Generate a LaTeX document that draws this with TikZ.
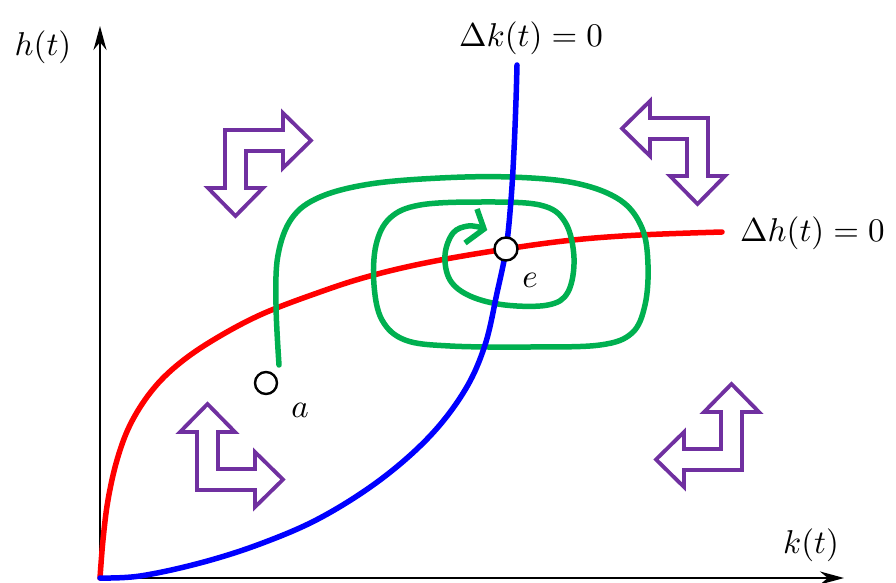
\documentclass[tikz,border=0pt]{standalone}
\usepackage{graphicx}
\usetikzlibrary{arrows.meta}
\definecolor{pgreen}{RGB}{0,176,80}
\definecolor{ppurple}{RGB}{112,48,160}
\newcommand{\biglab}[1]{\scalebox{3.3}{$#1$}}
\tikzset{
  curve/.style={line width=5.5pt, line cap=round, line join=round},
  axis/.style={line width=2pt, -{Stealth[length=24pt,width=13pt]}},
  lab/.style={inner sep=0pt},
  dot/.style={circle, draw=black, fill=white, line width=2.4pt, minimum size=23pt, inner sep=0pt},
  larrow/.pic={\draw[ppurple, line width=3.8pt, line join=miter, fill=white]
    (0,0) -- (58,0) -- (58,-17) -- (86,10.5) -- (58,38) -- (58,21) -- (21,21)
    -- (21,58) -- (38,58) -- (10.5,86) -- (-17,58) -- (0,58) -- cycle;}
}
\begin{document}
\begin{tikzpicture}[x=1pt,y=-1pt]
\useasboundingbox (0,0) rectangle (896,583);
\fill[white] (0,0) rectangle (896,583);
% axes
\coordinate (O) at (100,578);
\coordinate (ytop) at (100,26);
\coordinate (xend) at (844,578);
\draw[axis] (O) -- (ytop);
\draw[axis] (O) -- (xend);
% purple arrows
\pic at (225,130) {larrow};
\pic[xscale=-1] at (708,118) {larrow};
\pic[yscale=-1] at (197,490) {larrow};
\pic[xscale=-1,yscale=-1] at (742,470) {larrow};
% red curve
\draw[curve, red] plot[smooth, tension=0.6] coordinates {
 (100,578) (103,540) (108,500) (117,460) (130,425) (150,393) (175,367)
 (210,342) (260,315) (320,292) (370,276) (430,262) (506,249) (573,240)
 (640,235) (722,232)};
% green spiral
\draw[curve, pgreen] plot[smooth, tension=0.6] coordinates {
 (279,365) (276,305) (278,255) (292,218) (320,197) (370,184)
 (440,178) (510,177) (575,183) (620,200) (642,228) (648,265) (645,305)
 (632,333) (600,345) (530,347) (450,346) (405,340) (382,320) (374,285)
 (376,245) (390,218) (420,205) (480,202) (540,205) (565,222)
 (574,258) (568,292) (548,305) (505,305) (470,296) (450,280) (445,255)
 (453,233) (468,226) (483,228)};
\draw[curve, pgreen, line join=miter, line cap=butt] (477,209) -- (484,229) -- (465,243);
% blue curve
\draw[curve, blue] plot[smooth, tension=0.6] coordinates {
 (100,578) (140,576) (200,563) (260,544) (320,518) (380,480) (430,436)
 (465,390) (485,345) (497,293) (506,249) (511,200) (514,150) (516,100)
 (517,65)};
% points
\node[dot] (e) at (506,249) {};
\node[dot, minimum size=22pt] (a) at (266,383) {};
% labels
\node[lab] (hl) at (43,47) {\biglab{h(t)}};
\node[lab] (kl) at (811,545) {\biglab{k(t)}};
\node[lab] (dk) at (531,38) {\biglab{\Delta k(t)=0}};
\node[lab, anchor=west] (dh) at (740,233) {\biglab{\Delta h(t)=0}};
\node[lab] (al) at (300,410) {\biglab{a}};
\node[lab] (el) at (530,280) {\biglab{e}};
\end{tikzpicture}
\end{document}
